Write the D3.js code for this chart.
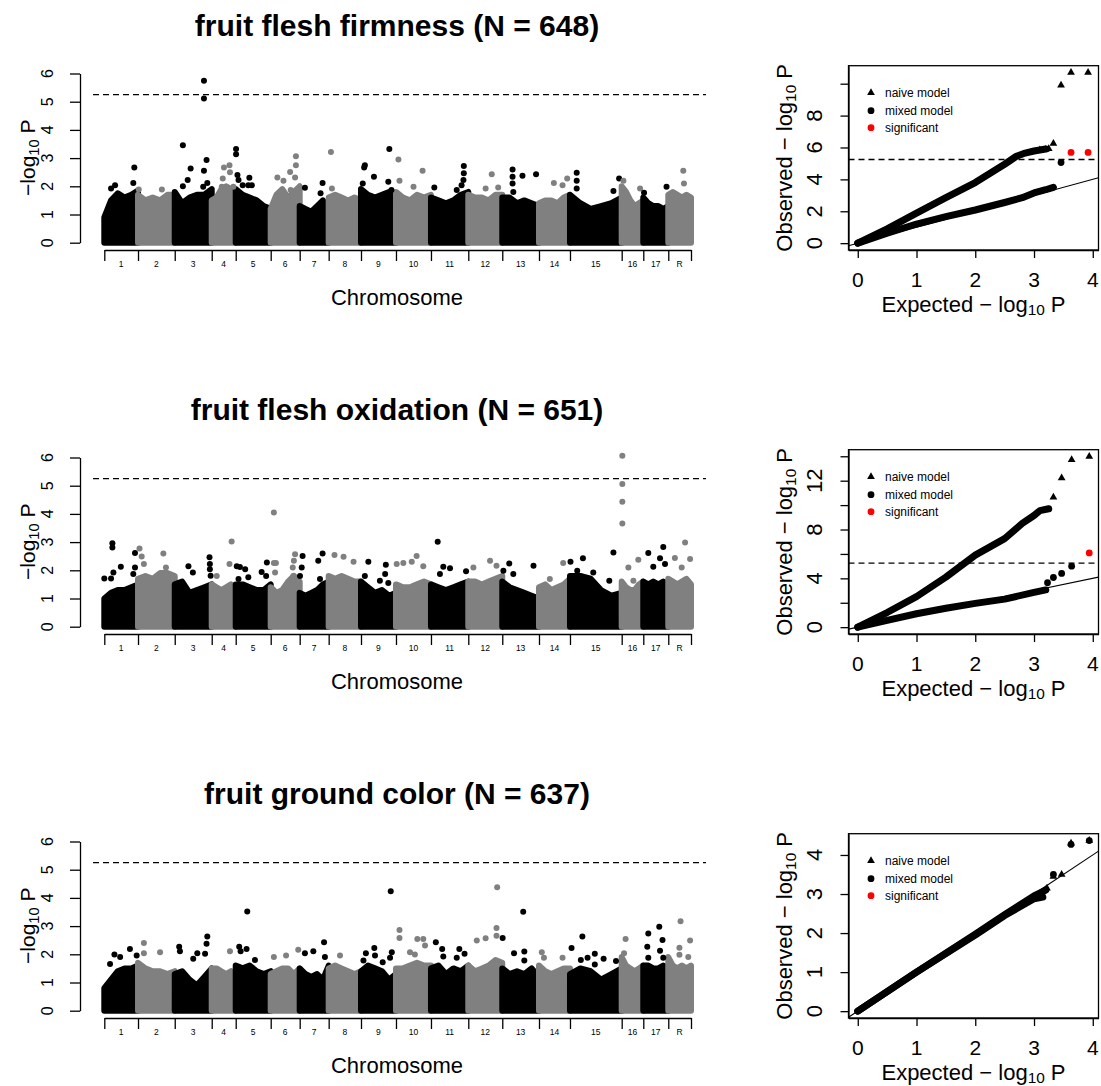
<!DOCTYPE html>
<html>
<head>
<meta charset="utf-8">
<script src="https://cdn.jsdelivr.net/npm/d3@7"></script>
<style>
  body { margin: 0; background: #fff; }
  svg { display: block; }
  text { font-family: "Liberation Sans", Arial, Helvetica, sans-serif; fill: #000; }
</style>
</head>
<body>
<svg id="fig" width="1101" height="1086"></svg>
<script>
// ---------------- data ----------------
const chromosomes = ["1","2","3","4","5","6","7","8","9","10","11","12","13","14","15","16","17","R"];
const snpCounts = [506, 551, 555, 360, 525, 435, 435, 485, 525, 525, 560, 510, 551, 465, 776, 324, 375, 341];
const traitNames = ["fruit flesh firmness", "fruit flesh oxidation", "fruit ground color"];
const sampleSizes = [648, 651, 637];
const manhattanTicks = [0, 1, 2, 3, 4, 5, 6];
const significanceLine = 5.25;

// upper edge (-log10 P) of the dense marker cloud, sampled evenly along each chromosome
const firmnessBand = [
  [0.9,1.5,1.75,1.6,1.7,1.85],[1.7,1.5,1.6,1.5,1.7,1.7],[1.8,1.4,1.6,1.7,1.7,1.9],[1.5,1.6,1.9,2.0,1.9,1.7],
  [1.9,1.7,1.6,1.5,1.3,1.2],[1.2,1.7,1.9,1.6,1.8,2.0],[1.3,1.2,1.1,1.3,1.5,1.2],[1.6,1.7,1.6,1.5,1.6,1.5],
  [1.9,1.7,1.6,1.7,1.8,1.5],[1.8,1.6,1.5,1.7,1.6,1.7],[1.6,1.5,1.4,1.5,1.7,1.8],[1.7,1.6,1.6,1.5,1.7,1.7],
  [1.6,1.6,1.4,1.5,1.4,1.3],[1.4,1.5,1.5,1.4,1.6,1.7],[1.7,1.4,1.2,1.3,1.4,1.6],[2.0,1.8,1.5,1.3,1.4,1.5],
  [1.6,1.4,1.3,1.3,1.2,1.3],[1.7,1.8,1.7,1.6,1.7,1.6]
];
// markers standing out of the cloud: [chromosome index, relative position, -log10 P]
const firmnessPeaks = [
  [0,0.89,2.67],[0,0.86,2.12],[0,0.32,2.04],[0,0.2,1.92],
  [1,0.02,1.89],[1,0.65,1.89],
  [2,0.22,3.46],[2,0.43,2.63],[2,0.35,2.22],[2,0.22,2.0],[2,0.79,5.74],[2,0.79,5.11],[2,0.86,2.93],[2,0.79,2.55],[2,0.88,2.12],[2,0.77,1.98],
  [3,0.51,2.67],[3,0.74,2.75],[3,0.46,2.28],[3,0.42,1.98],[3,0.76,2.5],[3,0.9,1.98],
  [4,0.01,3.32],[4,0.01,3.14],[4,0.05,2.4],[4,0.08,2.22],[4,0.39,2.3],[4,0.2,2.04],[4,0.36,2.04],[4,0.46,2.04],
  [5,0.87,3.07],[5,0.87,2.75],[5,0.67,2.51],[5,0.23,2.31],[5,0.44,2.2],[5,0.84,2.31],[5,0.69,1.87],
  [6,0.18,1.95],[6,0.79,2.12],[6,0.72,1.75],
  [7,0.07,3.22],[7,0.1,1.92],
  [8,0.81,3.32],[8,0.11,2.75],[8,0.09,2.67],[8,0.37,2.34],[8,0.05,2.1],[8,0.78,2.16],[8,0.87,1.87],
  [9,0.07,2.95],[9,0.1,2.2],[9,0.76,2.55],[9,0.5,1.98],
  [10,0.88,2.72],[10,0.88,2.46],[10,0.87,2.22],[10,0.82,2.04],[10,0.69,1.87],[10,0.09,1.96],
  [11,0.69,2.43],[11,0.51,1.92],[11,0.88,1.96],
  [12,0.28,2.6],[12,0.28,2.34],[12,0.28,2.1],[12,0.3,1.8],[12,0.55,2.37],[12,0.92,2.43],
  [13,0.91,2.28],[13,0.76,2.04],[13,0.48,2.12],
  [14,0.13,2.48],[14,0.13,2.2],[14,0.13,1.92],[14,0.95,2.28],[14,0.84,1.83],
  [15,0.08,2.2],[15,0.85,1.92],
  [16,0.03,1.77],[16,0.93,1.98],
  [17,0.66,2.55],[17,0.69,2.1]
];

const oxidationBand = [
  [1.0,1.2,1.3,1.3,1.4,1.5],[1.7,1.8,1.7,1.9,1.9,1.8],[1.5,1.6,1.2,1.3,1.4,1.5],[1.5,1.4,1.3,1.4,1.5,1.3],
  [1.5,1.5,1.4,1.3,1.3,1.5],[1.4,1.2,1.3,1.6,1.8,1.6],[1.2,1.1,1.2,1.3,1.5,1.6],[1.8,1.7,1.8,1.7,1.6,1.6],
  [1.6,1.4,1.2,1.3,1.1,1.2],[1.5,1.4,1.4,1.5,1.6,1.5],[1.5,1.4,1.3,1.4,1.5,1.6],[1.6,1.6,1.5,1.6,1.7,1.8],
  [1.6,1.4,1.3,1.2,1.1,1.0],[1.4,1.5,1.3,1.4,1.5,1.7],[1.8,1.8,1.7,1.3,1.1,1.2],[1.6,1.4,1.3,1.3,1.5,1.6],
  [1.6,1.5,1.6,1.5,1.6,1.5],[1.7,1.6,1.5,1.6,1.7,1.5]
];
const oxidationPeaks = [
  [0,0.24,2.96],[0,0.24,2.81],[0,0.49,2.13],[0,0.27,1.92],[0,0.0,1.71],[0,0.2,1.71],[0,0.91,2.61],[0,0.91,2.1],[0,0.86,1.87],
  [1,0.04,2.77],[1,0.1,2.49],[1,0.16,2.22],[1,0.69,2.6],[1,0.76,2.1],
  [2,0.37,2.14],[2,0.49,1.92],[2,0.94,2.46],[2,0.95,2.22],[2,0.95,2.04],[2,0.97,1.81],
  [3,0.83,3.02],[3,0.74,2.22],[3,0.21,1.8],
  [4,0.03,2.14],[4,0.12,2.12],[4,0.27,2.04],[4,0.89,2.28],[4,0.74,1.94],[4,0.87,1.8],[4,0.36,1.75],[4,0.08,1.69],
  [5,0.11,4.05],[5,0.18,2.26],[5,0.11,2.26],[5,0.15,1.92],[5,0.84,2.57],[5,0.8,2.34],[5,0.76,2.1],[5,0.78,1.8],
  [6,0.79,2.6],[6,0.64,2.34],[6,0.1,2.51],[6,0.07,2.1],[6,0.01,1.8],[6,0.7,1.69],
  [7,0.18,2.54],[7,0.46,2.48],[7,0.77,2.3],
  [8,0.21,2.3],[8,0.71,2.2],[8,0.69,1.87],[8,0.54,1.63],[8,0.78,1.55],[8,0.11,1.8],
  [9,0.02,2.22],[9,0.21,2.26],[9,0.45,2.3],[9,0.59,2.51],[9,0.78,2.14],
  [10,0.18,3.01],[10,0.33,2.13],[10,0.51,2.07],[10,0.24,1.87],[10,0.94,1.97],
  [11,0.15,2.1],[11,0.64,2.34],[11,0.83,2.16],
  [12,0.19,2.24],[12,0.03,1.98],[12,0.3,1.87],[12,0.85,2.16],
  [13,0.78,2.26],[13,0.35,1.69],
  [14,0.01,2.3],[14,0.25,2.43],[14,0.84,2.63],[14,0.14,1.98],[14,0.45,1.92],[14,0.76,1.63],
  [15,0.03,6.06],[15,0.03,5.06],[15,0.03,4.43],[15,0.03,3.66],[15,0.77,2.37],[15,0.31,2.1],[15,0.54,1.63],
  [16,0.8,2.83],[16,0.2,2.61],[16,0.67,2.43],[16,0.4,2.13],[16,0.87,2.22],
  [17,0.74,2.99],[17,0.29,2.44],[17,0.96,2.4],[17,0.59,2.1]
];

const colorBand = [
  [0.8,1.1,1.4,1.5,1.5,1.6],[1.7,1.5,1.4,1.4,1.3,1.4],[1.3,1.4,1.1,0.9,1.2,1.5],[1.5,1.5,1.4,1.3,1.4,1.2],
  [1.6,1.5,1.6,1.4,1.3,1.4],[1.3,1.4,1.5,1.5,1.3,1.5],[1.5,1.3,1.2,1.3,1.1,1.6],[1.5,1.6,1.5,1.4,1.3,1.4],
  [1.4,1.6,1.5,1.4,1.1,1.3],[1.5,1.5,1.6,1.7,1.6,1.6],[1.5,1.6,1.3,1.5,1.4,1.6],[1.6,1.4,1.5,1.6,1.8,1.7],
  [1.5,1.3,1.4,1.3,1.5,1.2],[1.6,1.4,1.3,1.4,1.5,1.5],[1.3,1.5,1.4,1.1,1.3,1.5],[1.9,1.6,1.5,1.4,1.5,1.6],
  [1.6,1.6,1.5,1.5,1.6,1.5],[1.9,1.6,1.5,1.6,1.5,1.6]
];
const colorPeaks = [
  [0,0.3,1.99],[0,0.76,2.19],[0,0.17,1.66],[0,0.47,1.9],[0,0.96,1.96],
  [1,0.16,2.4],[1,0.16,2.04],[1,0.6,2.07],
  [2,0.12,2.27],[2,0.14,2.11],[2,0.5,1.84],[2,0.61,2.04],[2,0.88,2.63],[2,0.86,2.37],[2,0.82,2.02],
  [3,0.76,2.11],
  [4,0.33,3.52],[4,0.1,2.27],[4,0.31,2.19],[4,0.14,2.11],[4,0.55,1.8],
  [5,0.11,1.9],[5,0.53,1.96],[5,0.95,2.16],
  [6,0.18,2.04],[6,0.47,2.11],[6,0.84,2.43],[6,0.87,1.9],
  [7,0.35,1.96],
  [8,0.85,4.24],[8,0.38,2.22],[8,0.14,2.04],[8,0.4,1.96],[8,0.88,2.07],[8,0.83,1.88],[8,0.62,1.72],[8,0.07,1.78],
  [9,0.1,2.86],[9,0.1,2.58],[9,0.61,2.54],[9,0.78,2.54],[9,0.83,2.31],[9,0.4,2.07],[9,0.54,1.99],
  [10,0.13,2.43],[10,0.3,2.19],[10,0.76,2.19],[10,0.33,1.92],[10,0.69,1.88],[10,0.9,2.02],
  [11,0.85,4.38],[11,0.83,2.93],[11,0.83,2.66],[11,0.25,2.49],[11,0.51,2.57],
  [12,0.01,2.58],[12,0.57,3.51],[12,0.32,2.04],[12,0.6,2.1],[12,0.6,1.78],
  [13,0.09,2.07],[13,0.16,1.88],[13,0.76,1.88],
  [14,0.24,2.63],[14,0.03,2.22],[14,0.21,1.8],[14,0.34,1.88],[14,0.48,2.02],[14,0.48,1.64],[14,0.65,1.84],[14,0.89,1.76],
  [15,0.18,2.54],[15,0.11,2.04],
  [16,0.64,2.98],[16,0.2,2.74],[16,0.77,2.51],[16,0.16,2.27],[16,0.67,2.13],[16,0.2,1.88],[16,0.8,1.88],
  [17,0.54,3.17],[17,0.96,2.49],[17,0.49,2.23],[17,0.49,1.98],[17,0.88,1.9]
];

// QQ plots: observed vs expected -log10 P; the bulk of each model traced as a curve, the extremes as single markers
const qqExpectedTicks = [0, 1, 2, 3, 4];
const qqExpectedMax = 3.94;

const firmnessNaiveExp = [0, 0.5, 1, 1.5, 2, 2.5, 2.7, 2.85, 3.0, 3.2];
const firmnessNaiveObs = [0, 0.9, 1.88, 2.85, 3.8, 4.95, 5.45, 5.65, 5.78, 5.9];
const firmnessMixedExp = [0, 0.5, 1, 1.5, 2, 2.5, 2.8, 3.0, 3.2, 3.33];
const firmnessMixedObs = [0, 0.62, 1.2, 1.66, 2.08, 2.55, 2.85, 3.15, 3.35, 3.5];
const firmnessNaiveTail = [[3.1,5.85],[3.2,5.88],[3.25,5.92],[3.33,6.25],[3.46,9.9],[3.63,10.7],[3.92,10.7]];
const firmnessMixedTail = [[3.46,5.06]];
const firmnessSignificant = [[3.63,5.69],[3.92,5.69]];
const firmnessQQTicks = [0, 2, 4, 6, 8, 10];
const firmnessQQLabels = [0, 2, 4, 6, 8];

const oxidationNaiveExp = [0, 0.5, 1, 1.5, 2, 2.5, 2.8, 3.0, 3.1, 3.25];
const oxidationNaiveObs = [0, 1.2, 2.5, 4.1, 5.9, 7.25, 8.5, 9.15, 9.55, 9.7];
const oxidationMixedExp = [0, 0.5, 1, 1.5, 2, 2.5, 3.0, 3.2];
const oxidationMixedObs = [0, 0.55, 1.1, 1.55, 1.95, 2.3, 2.85, 3.05];
const oxidationNaiveTail = [[3.33,10.64],[3.47,12.22],[3.64,13.71],[3.94,13.98]];
const oxidationMixedTail = [[3.23,3.64],[3.33,4.07],[3.47,4.4],[3.64,5.0]];
const oxidationSignificant = [[3.94,6.08]];
const oxidationQQTicks = [0, 2, 4, 6, 8, 10, 12, 14];
const oxidationQQLabels = [0, 4, 8, 12];

const colorNaiveExp = [0, 1, 2, 2.5, 3.0, 3.15];
const colorNaiveObs = [0, 1.0, 1.95, 2.45, 2.88, 2.92];
const colorMixedExp = [0, 1, 2, 2.5, 3.0, 3.2];
const colorMixedObs = [0, 1.0, 1.97, 2.47, 2.95, 3.1];
const colorNaiveTail = [[3.22,3.15],[3.33,3.45],[3.47,3.5],[3.63,4.3],[3.94,4.37]];
const colorMixedTail = [[3.33,3.5],[3.63,4.27],[3.94,4.37]];
const colorSignificant = [];
const colorQQTicks = [0, 1, 2, 3, 4];
const colorQQLabels = [0, 1, 2, 3, 4];

const legendLabels = ["naive model", "mixed model", "significant"];

// ---------------- drawing ----------------
const svg = d3.select("#fig");
const ROW = 384;
const BLACK = "#000000", GREY = "#808080", RED = "#ff0000";
const chrColor = i => (i % 2 === 0 ? BLACK : GREY);

const chrStart = [0];
snpCounts.forEach(n => chrStart.push(chrStart[chrStart.length - 1] + n));
const totalSnps = chrStart[chrStart.length - 1];
const xM = d3.scaleLinear().domain([0, totalSnps]).range([104.3, 691]);

function subLabel(sel, pre, sub, post, size, shift) {
  sel.append("tspan").text(pre);
  sel.append("tspan").text(sub).attr("font-size", size * 0.7).attr("dy", size * shift);
  sel.append("tspan").text(post).attr("dy", -size * shift);
}

const traits = [
  { band: firmnessBand, peaks: firmnessPeaks,
    nExp: firmnessNaiveExp, nObs: firmnessNaiveObs, mExp: firmnessMixedExp, mObs: firmnessMixedObs,
    nTail: firmnessNaiveTail, mTail: firmnessMixedTail, sig: firmnessSignificant,
    qTicks: firmnessQQTicks, qLabels: firmnessQQLabels },
  { band: oxidationBand, peaks: oxidationPeaks,
    nExp: oxidationNaiveExp, nObs: oxidationNaiveObs, mExp: oxidationMixedExp, mObs: oxidationMixedObs,
    nTail: oxidationNaiveTail, mTail: oxidationMixedTail, sig: oxidationSignificant,
    qTicks: oxidationQQTicks, qLabels: oxidationQQLabels },
  { band: colorBand, peaks: colorPeaks,
    nExp: colorNaiveExp, nObs: colorNaiveObs, mExp: colorMixedExp, mObs: colorMixedObs,
    nTail: colorNaiveTail, mTail: colorMixedTail, sig: colorSignificant,
    qTicks: colorQQTicks, qLabels: colorQQLabels }
];

traits.forEach((t, k) => {
  const top = k * ROW;
  const g = svg.append("g");

  // ---- Manhattan plot ----
  const y = d3.scaleLinear().domain([0, 6]).range([top + 242.7, top + 73.5]);
  const y0 = y(0);

  g.append("text")
    .attr("x", 397).attr("y", top + 36)
    .attr("text-anchor", "middle")
    .attr("font-size", 30).attr("font-weight", "bold")
    .text(`${traitNames[k]} (N = ${sampleSizes[k]})`);

  const area = d3.area().x(d => xM(d[0])).y0(y0).y1(d => y(d[1]));
  t.band.forEach((b, c) => {
    const pts = b.map((v, i) => [chrStart[c] + snpCounts[c] * i / (b.length - 1), v]);
    g.append("path")
      .attr("d", area(pts))
      .attr("fill", chrColor(c))
      .attr("stroke", chrColor(c))
      .attr("stroke-width", 6)
      .attr("stroke-linejoin", "round");
  });

  g.selectAll("circle.peak").data(t.peaks).join("circle")
    .attr("class", "peak")
    .attr("cx", d => xM(chrStart[d[0]] + d[1] * snpCounts[d[0]]))
    .attr("cy", d => y(d[2]))
    .attr("r", 3)
    .attr("fill", d => chrColor(d[0]));

  g.append("line")
    .attr("x1", 93).attr("x2", 706)
    .attr("y1", y(significanceLine)).attr("y2", y(significanceLine))
    .attr("stroke", BLACK).attr("stroke-width", 1.4)
    .attr("stroke-dasharray", "6,4");

  // y axis
  g.append("g").attr("transform", "translate(80,0)")
    .call(d3.axisLeft(y).tickValues(manhattanTicks).tickSize(10).tickSizeOuter(0).tickFormat(""))
    .call(a => a.selectAll("path,line").attr("stroke-width", 1.3));
  manhattanTicks.forEach(v => {
    g.append("text")
      .attr("transform", `translate(53.3,${y(v)}) rotate(-90)`)
      .attr("text-anchor", "middle").attr("font-size", 16)
      .text(v);
  });
  const yl = g.append("text")
    .attr("transform", `translate(35,${y0 - 85}) rotate(-90)`)
    .attr("text-anchor", "middle").attr("font-size", 21);
  subLabel(yl, "\u2212log", "10", " P", 21, 0.2);

  // chromosome axis
  const axisY = y0 + 7.3;
  g.append("g").attr("transform", `translate(0,${axisY})`)
    .call(d3.axisBottom(xM).tickValues(chrStart).tickSize(11).tickSizeOuter(0).tickFormat(""))
    .call(a => a.selectAll("path,line").attr("stroke-width", 1.3));
  chromosomes.forEach((c, i) => {
    g.append("text")
      .attr("x", xM(chrStart[i] + snpCounts[i] / 2))
      .attr("y", axisY + 16.5)
      .attr("text-anchor", "middle").attr("font-size", 8.5)
      .attr("fill", "#222")
      .text(c);
  });
  g.append("text")
    .attr("x", 397).attr("y", y0 + 62.3)
    .attr("text-anchor", "middle").attr("font-size", 22)
    .text("Chromosome");

  // ---- QQ plot ----
  const boxL = 848.5, boxR = 1098.5, boxT = top + 65.7, boxB = top + 250;
  const xq = d3.scaleLinear().domain([-0.04 * qqExpectedMax, qqExpectedMax * 1.04]).range([boxL, boxR]);
  const obsMax = d3.max([...t.nObs, ...t.mObs, ...t.nTail.map(d => d[1]), ...t.mTail.map(d => d[1]), ...t.sig.map(d => d[1])]);
  const yq = d3.scaleLinear().domain([-0.04 * obsMax, obsMax * 1.04]).range([boxB, boxT]);

  const clipId = `qqclip${k}`;
  svg.append("clipPath").attr("id", clipId)
    .append("rect").attr("x", boxL).attr("y", boxT).attr("width", boxR - boxL).attr("height", boxB - boxT);
  const q = g.append("g").attr("clip-path", `url(#${clipId})`);

  const dLo = xq.domain()[0], dHi = xq.domain()[1];
  q.append("line")
    .attr("x1", xq(dLo)).attr("y1", yq(dLo)).attr("x2", xq(dHi)).attr("y2", yq(dHi))
    .attr("stroke", BLACK).attr("stroke-width", 1.1);
  q.append("line")
    .attr("x1", boxL).attr("x2", boxR)
    .attr("y1", yq(significanceLine)).attr("y2", yq(significanceLine))
    .attr("stroke", BLACK).attr("stroke-width", 1.4).attr("stroke-dasharray", "6,4");

  const qqLine = d3.line().x(d => xq(d[0])).y(d => yq(d[1]));
  [[t.mExp, t.mObs], [t.nExp, t.nObs]].forEach(([ex, ob]) => {
    q.append("path")
      .attr("d", qqLine(ex.map((e, i) => [e, ob[i]])))
      .attr("fill", "none").attr("stroke", BLACK)
      .attr("stroke-width", 7).attr("stroke-linecap", "round").attr("stroke-linejoin", "round");
  });

  const tri = d3.symbol().type(d3.symbolTriangle).size(26);
  g.selectAll("path.naive").data(t.nTail).join("path")
    .attr("class", "naive")
    .attr("d", tri)
    .attr("transform", d => `translate(${xq(d[0])},${yq(d[1])})`)
    .attr("fill", BLACK);
  g.selectAll("circle.mixed").data(t.mTail).join("circle")
    .attr("class", "mixed")
    .attr("cx", d => xq(d[0])).attr("cy", d => yq(d[1])).attr("r", 3.4).attr("fill", BLACK);
  g.selectAll("circle.sig").data(t.sig).join("circle")
    .attr("class", "sig")
    .attr("cx", d => xq(d[0])).attr("cy", d => yq(d[1])).attr("r", 3.4).attr("fill", RED);

  g.append("rect")
    .attr("x", boxL).attr("y", boxT).attr("width", boxR - boxL).attr("height", boxB - boxT)
    .attr("fill", "none").attr("stroke", BLACK).attr("stroke-width", 1.3);

  // legend
  const legY = [boxT + 27, boxT + 45, boxT + 62];
  g.append("path").attr("d", tri()).attr("transform", `translate(871,${legY[0]})`).attr("fill", BLACK);
  g.append("circle").attr("cx", 871).attr("cy", legY[1]).attr("r", 3.4).attr("fill", BLACK);
  g.append("circle").attr("cx", 871).attr("cy", legY[2]).attr("r", 3.4).attr("fill", RED);
  legendLabels.forEach((s, i) => {
    g.append("text").attr("x", 885).attr("y", legY[i] + 4.3).attr("font-size", 12).text(s);
  });

  // axes
  g.append("g").attr("transform", `translate(0,${boxB})`)
    .call(d3.axisBottom(xq).tickValues(qqExpectedTicks).tickSize(8).tickSizeOuter(0).tickFormat(""))
    .call(a => a.selectAll("path,line").attr("stroke-width", 1.3));
  qqExpectedTicks.forEach(v => {
    g.append("text").attr("x", xq(v)).attr("y", boxB + 37)
      .attr("text-anchor", "middle").attr("font-size", 21).text(v);
  });
  g.append("g").attr("transform", `translate(${boxL},0)`)
    .call(d3.axisLeft(yq).tickValues(t.qTicks).tickSize(8).tickSizeOuter(0).tickFormat(""))
    .call(a => a.selectAll("path,line").attr("stroke-width", 1.3));
  t.qLabels.forEach(v => {
    g.append("text")
      .attr("transform", `translate(822.3,${yq(v)}) rotate(-90)`)
      .attr("text-anchor", "middle").attr("font-size", 22).text(v);
  });

  const xl = g.append("text")
    .attr("x", (boxL + boxR) / 2).attr("y", boxB + 61.5)
    .attr("text-anchor", "middle").attr("font-size", 22);
  subLabel(xl, "Expected \u2212 log", "10", " P", 22, 0.15);
  const ylq = g.append("text")
    .attr("transform", `translate(791.5,${(boxT + boxB) / 2}) rotate(-90)`)
    .attr("text-anchor", "middle").attr("font-size", 22);
  subLabel(ylq, "Observed \u2212 log", "10", " P", 22, 0.2);
});
</script>
</body>
</html>
